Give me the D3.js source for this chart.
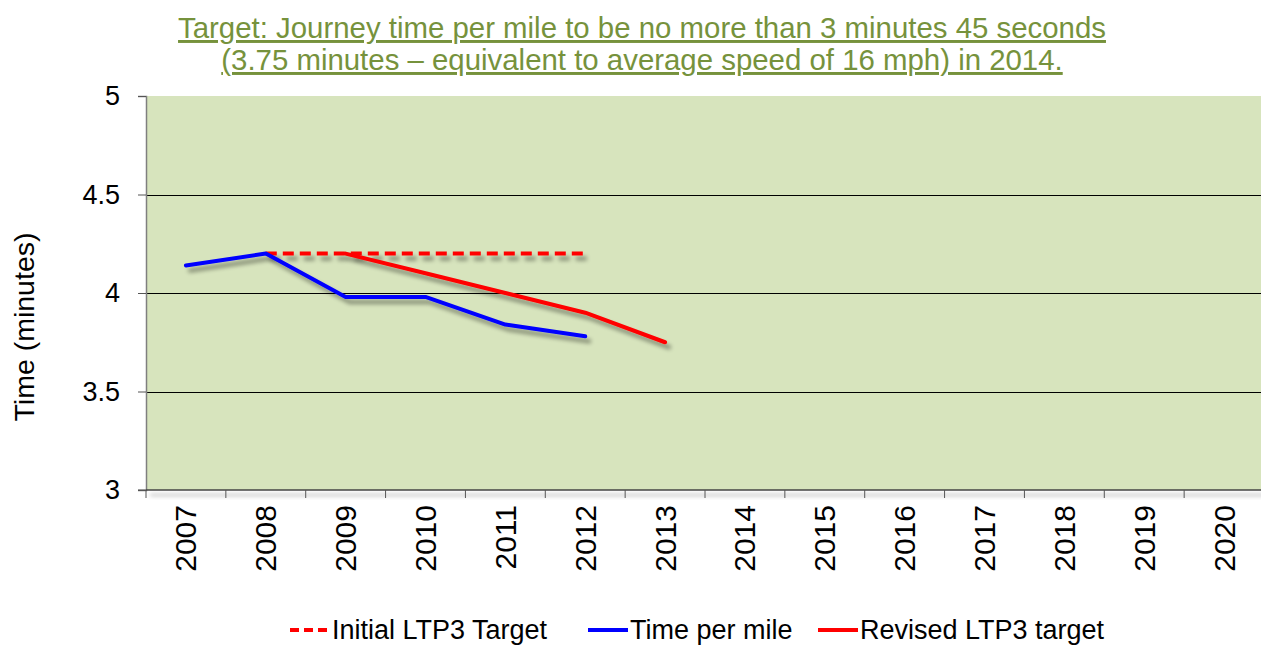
<!DOCTYPE html>
<html>
<head>
<meta charset="utf-8">
<script src="https://cdn.jsdelivr.net/npm/d3@7"></script>
<style>
  body { margin: 0; background: #fff; }
  text { font-family: "Liberation Sans", Arial, sans-serif; }
</style>
</head>
<body>
<div id="chart"></div>
<script>
// chart data
const years = ["2007","2008","2009","2010","2011","2012","2013","2014","2015","2016","2017","2018","2019","2020"];
const timePerMile = [["2007",4.14],["2008",4.2],["2009",3.98],["2010",3.98],["2011",3.84],["2012",3.78]];
const initialTarget = [["2008",4.2],["2009",4.2],["2010",4.2],["2011",4.2],["2012",4.2]];
const revisedTarget = [["2009",4.2],["2010",4.1],["2011",4.0],["2012",3.9],["2013",3.75]];
const yTicks = [3, 3.5, 4, 4.5, 5];
const titleLines = ["Target: Journey time per mile to be no more than 3 minutes 45 seconds",
                    "(3.75 minutes \u2013 equivalent to average speed of 16 mph) in 2014."];

const W = 1261, H = 646;
const margin = {top: 96, right: -3, bottom: 156, left: 146},
    width = W - margin.left - margin.right,
    height = H - margin.top - margin.bottom;

const svg = d3.select("#chart")
  .append("svg")
    .attr("width", W)
    .attr("height", H);

// drop shadow used on the lines (user space so flat lines still render)
const defs = svg.append("defs");
const shadow = defs.append("filter").attr("id", "shadow")
  .attr("filterUnits", "userSpaceOnUse")
  .attr("x", -200).attr("y", -200).attr("width", 1600).attr("height", 1000);
shadow.append("feGaussianBlur").attr("in", "SourceAlpha").attr("stdDeviation", 2);
shadow.append("feOffset").attr("dx", 4).attr("dy", 5).attr("result", "off");
shadow.append("feComponentTransfer").append("feFuncA").attr("type", "linear").attr("slope", 0.4);
const merge = shadow.append("feMerge");
merge.append("feMergeNode");
merge.append("feMergeNode").attr("in", "SourceGraphic");

const g = svg.append("g")
  .attr("transform", `translate(${margin.left},${margin.top})`);

// scales
const x = d3.scaleBand().domain(years).range([0, width]);
const y = d3.scaleLinear().domain([3, 5]).range([height, 0]);

// plot background
g.append("rect")
  .attr("width", width).attr("height", height)
  .attr("fill", "#d7e4bd");

// grid lines
g.append("g")
  .attr("class", "grid")
  .call(d3.axisLeft(y).tickValues(yTicks.slice(1, -1)).tickSize(-width).tickFormat(""))
  .call(a => a.select(".domain").remove())
  .call(a => a.selectAll("line").attr("stroke", "#000").attr("stroke-width", 1)
    .attr("shape-rendering", "crispEdges"));

// y axis
g.append("g")
  .call(d3.axisLeft(y).tickValues(yTicks).tickSize(8).tickPadding(18).tickFormat(d3.format("")))
  .call(a => a.select(".domain").attr("stroke", "#7f7f7f").attr("stroke-width", 1.5))
  .call(a => a.selectAll("line").attr("stroke", "#555"))
  .call(a => a.selectAll("text").attr("font-size", 27).attr("fill", "#000")
    .attr("font-family", "Liberation Sans, Arial, sans-serif"));

// x axis with shadow
g.append("line")
  .attr("x1", 0).attr("x2", width).attr("y1", height).attr("y2", height)
  .attr("stroke", "#444").attr("stroke-width", 1.5)
  .attr("filter", "url(#shadow)");

const xAxis = g.append("g")
  .attr("transform", `translate(0,${height})`)
  .call(d3.axisBottom(x).tickSize(0).tickPadding(0))
  .call(a => a.select(".domain").remove());
xAxis.selectAll("text")
  .attr("font-size", 30)
  .attr("fill", "#000")
  .attr("font-family", "Liberation Sans, Arial, sans-serif")
  .attr("text-anchor", "end")
  .attr("dy", "0.35em")
  .attr("transform", "translate(0,15) rotate(-90)");

// boundary ticks between categories
g.append("g")
  .selectAll("line")
  .data(d3.range(years.length + 1))
  .join("line")
    .attr("x1", i => i * x.step()).attr("x2", i => i * x.step())
    .attr("y1", height).attr("y2", height + 8)
    .attr("stroke", "#555");
g.append("line")
  .attr("x1", -8).attr("x2", 0).attr("y1", height).attr("y2", height)
  .attr("stroke", "#555");

// y title
svg.append("text")
  .attr("transform", `translate(34,${margin.top + height / 2 + 34}) rotate(-90)`)
  .attr("text-anchor", "middle")
  .attr("font-size", 28.5)
  .text("Time (minutes)");

// lines
const line = d3.line()
  .x(d => x(d[0]) + x.bandwidth() / 2)
  .y(d => y(d[1]));

g.append("path").datum(initialTarget)
  .attr("fill", "none").attr("stroke", "#ff0000").attr("stroke-width", 4)
  .attr("stroke-dasharray", "11,6")
  .attr("filter", "url(#shadow)")
  .attr("d", line);

g.append("path").datum(timePerMile)
  .attr("fill", "none").attr("stroke", "#0000ff").attr("stroke-width", 4)
  .attr("stroke-linejoin", "round").attr("stroke-linecap", "round")
  .attr("filter", "url(#shadow)")
  .attr("d", line);

g.append("path").datum(revisedTarget)
  .attr("fill", "none").attr("stroke", "#ff0000").attr("stroke-width", 4)
  .attr("stroke-linejoin", "round").attr("stroke-linecap", "round")
  .attr("filter", "url(#shadow)")
  .attr("d", line);

// title
const title = svg.append("g");
titleLines.forEach((t, i) => {
  title.append("text")
    .attr("x", 642).attr("y", 38 + i * 32)
    .attr("text-anchor", "middle")
    .attr("font-size", 29.4)
    .attr("fill", "#76923c")
    .attr("text-decoration", "underline")
    .text(t);
});

// legend
const legendItems = [
  {name: "Initial LTP3 Target", color: "#ff0000", dash: "9,5", x: 290},
  {name: "Time per mile", color: "#0000ff", dash: null, x: 588},
  {name: "Revised LTP3 target", color: "#ff0000", dash: null, x: 818}
];
const legend = svg.append("g").attr("transform", "translate(0,630)");
legendItems.forEach(d => {
  legend.append("line")
    .attr("x1", d.x).attr("x2", d.x + 40)
    .attr("stroke", d.color).attr("stroke-width", 4)
    .attr("stroke-dasharray", d.dash);
  legend.append("text")
    .attr("x", d.x + 42).attr("dy", "0.35em")
    .attr("font-size", 27)
    .text(d.name);
});
</script>
</body>
</html>
